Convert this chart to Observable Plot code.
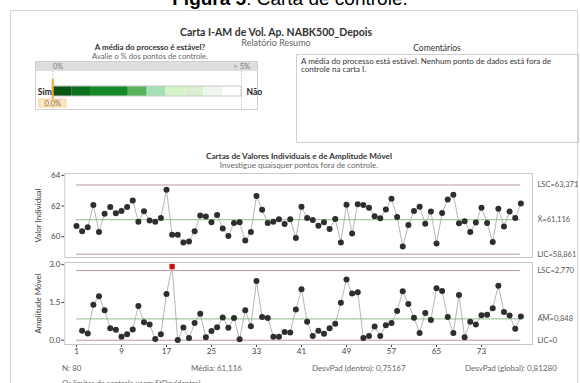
<!DOCTYPE html>
<html lang="pt">
<head>
<meta charset="utf-8">
<script src="https://cdn.jsdelivr.net/npm/d3@7"></script>
<script src="https://cdn.jsdelivr.net/npm/@observablehq/plot@0.6"></script>
<style>
html,body{margin:0;padding:0;background:#fff;}
body{width:580px;height:383px;overflow:hidden;position:relative;font-family:Lato,"Open Sans",sans-serif;color:#333;}
.t{position:absolute;white-space:nowrap;line-height:1;}
.box{position:absolute;box-sizing:border-box;border:1px solid #cfcfcf;}
.plot{position:absolute;}
.plot svg{overflow:visible;display:block;}
</style>
</head>
<body>
<div id="root"></div>
<script>
// ---------- data ----------
const individualValues = [60.70,60.35,60.61,62.06,60.30,61.49,61.93,61.53,61.68,61.93,
  62.36,60.98,61.66,61.05,60.98,61.22,63.06,60.13,60.13,59.62,
  59.69,60.35,61.38,61.31,60.94,61.42,60.54,60.04,60.90,60.94,
  59.75,60.30,62.65,61.75,60.90,60.98,61.14,60.83,61.14,59.91,
  61.95,61.22,61.09,60.72,60.94,60.50,61.16,59.62,62.08,60.21,
  62.12,62.06,61.88,61.33,61.20,61.77,62.47,61.29,59.36,60.76,
  61.68,61.95,60.85,61.64,59.56,61.55,62.43,62.74,60.87,61.00,
  60.30,60.92,61.88,60.90,59.65,61.82,60.67,61.64,61.22,62.16];
// moving ranges, observations 2..80
const movingRanges = [0.38,0.27,1.41,1.75,1.19,0.48,0.42,0.14,0.24,0.43,
  1.36,0.71,0.63,0.05,0.24,1.84,2.93,0.01,0.51,0.09,
  0.68,1.05,0.12,0.37,0.52,0.90,0.50,0.88,0.04,1.19,
  0.56,2.35,0.92,0.88,0.14,0.14,0.33,0.31,1.22,2.03,
  0.73,0.17,0.38,0.26,0.48,0.65,1.49,2.41,1.86,1.91,
  0.09,0.17,0.55,0.17,0.60,0.68,1.16,1.95,1.44,0.89,
  0.29,1.08,0.80,2.07,1.96,0.92,0.29,1.80,0.12,0.73,
  0.63,0.99,1.01,1.27,2.17,1.12,0.98,0.46,0.94];
const iLimits = [{v:63.371, t:"LSC=63,371", kind:"lim"},{v:61.116, t:"X\u0304=61,116", kind:"mean"},{v:58.861, t:"LIC=58,861", kind:"lim"}];
const mrLimits = [{v:2.770, t:"LSC=2,770", kind:"lim"},{v:0.848, t:"A\u0305M\u0305=0,848", kind:"mean"},{v:0, t:"LIC=0", kind:"lim"}];
const xTicks = [1,9,17,25,33,41,49,57,65,73];
const iTicks = [60,62,64];
const mrTicks = [0,1.5,3.0];
const gaugeBreaks = [0,0.5,1,2,2.5,3,3.5,4,4.5,5];
const gaugeColors = ["#0b5514","#0e6f1f","#15892a","#58b45c","#a5e1b6","#d5f3c5","#dcefcf","#eef7ee","#ffffff"];
const pctOut = [0];
const stats = [["N: 80",62],["Média: 61,116",191],["DesvPad (dentro): 0,75167",312],["DesvPad (global): 0,81280",465]];

// ---------- helpers ----------
const root = document.getElementById("root");
function txt(html, x, base, size, o = {}) {
  const d = document.createElement("div");
  d.className = "t";
  d.innerHTML = html;
  d.style.fontSize = size + "px";
  d.style.top = (base - 0.887 * size) + "px";
  d.style.color = o.color || "#333";
  if (o.weight) d.style.fontWeight = o.weight;
  if (o.italic) d.style.fontStyle = "italic";
  if (o.family) d.style.fontFamily = o.family;
  root.appendChild(d);
  const w = d.getBoundingClientRect().width;
  const a = o.anchor || "start";
  d.style.left = (a === "middle" ? x - w / 2 : a === "end" ? x - w : x) + "px";
  return d;
}
function box(x, y, w, h, extra = "") {
  const d = document.createElement("div");
  d.className = "box";
  d.style.cssText = `left:${x}px;top:${y}px;width:${w}px;height:${h}px;${extra}`;
  root.appendChild(d);
}
function holder(x, y, el) {
  const d = document.createElement("div");
  d.className = "plot";
  d.style.left = x + "px"; d.style.top = y + "px";
  d.appendChild(el);
  root.appendChild(d);
}

// ---------- header ----------
txt("<b>Figura 5</b>: Carta de controle.", 290, 6, 19, {anchor:"middle", color:"#000", family:'"Liberation Sans", Arial, sans-serif'});
box(10, 10, 568, 400, "border-color:#d6d6d6");
txt("Carta I-AM de Vol. Ap. NABK500_Depois", 276, 36, 10.5, {anchor:"middle", weight:700, color:"#333"});
txt("Relatório Resumo", 276, 46, 9, {anchor:"middle", color:"#666"});
txt("A média do processo é estável?", 150, 49.8, 8, {anchor:"middle", weight:700, color:"#333"});
txt("Avalie o % dos pontos de controle.", 150, 59.9, 7.7, {anchor:"middle", color:"#666"});
txt("Comentários", 437, 52, 8.5, {anchor:"middle", color:"#333"});
box(296, 54, 283, 89);
txt("A média do processo está estável. Nenhum ponto de dados está fora de", 301, 64, 8, {color:"#333"});
txt("controle na carta I.", 301, 72.5, 8, {color:"#333"});

// gauge frame
box(35, 61, 223, 49);
box(35, 61, 223, 10, "background:#dedede;border-bottom:none");
txt("0%", 53, 69.5, 7.5, {color:"#777"});
txt("&gt; 5%", 250, 69.5, 7.5, {anchor:"end", color:"#777"});

const segs = gaugeColors.map((c, k) => ({x1: gaugeBreaks[k], x2: gaugeBreaks[k + 1], c}));
const gauge = Plot.plot({
  width: 223, height: 39, marginLeft: 17.3, marginRight: 17, marginTop: 0, marginBottom: 0,
  x: {domain: [0, 5], axis: null},
  style: {background: "transparent", fontFamily: "Lato, sans-serif", fontSize: "8px", overflow: "visible"},
  marks: [
    Plot.ruleX([0, 5], {stroke: "#c4c4c4", strokeDasharray: "1.5,1.5"}),
    Plot.rect(segs, {x1: "x1", x2: "x2", fill: "c", insetTop: 15, insetBottom: 14}),
    Plot.rect([0], {x1: 0, x2: 5, fill: "none", stroke: "#c8c8c8", insetTop: 15, insetBottom: 14}),
    Plot.ruleX(pctOut, {x: d => d, stroke: "#f0a830", strokeWidth: 2, insetTop: 8, insetBottom: 10}),
    Plot.rect(pctOut, {x1: d => d, x2: d => d, insetLeft: -13.5, insetRight: -13.5, insetTop: 28, insetBottom: 3, fill: "#fde7c4", stroke: "#f2c98c", strokeWidth: 0.8}),
    Plot.text(pctOut, {x: d => d, text: d => d.toFixed(1) + "%", frameAnchor: "bottom", dy: -4.5, fill: "#8a6a3a", fontSize: 7.5}),
    Plot.text(pctOut, {x: gaugeBreaks[0], text: () => "Sim", textAnchor: "end", dx: -1, dy: 1, fontWeight: 700, fontSize: 8.5, fill: "#222"}),
    Plot.text(pctOut, {x: gaugeBreaks[gaugeBreaks.length - 1], text: () => "Não", textAnchor: "start", dx: 5, dy: 1, fontWeight: 700, fontSize: 8.5, fill: "#222"})
  ]
});
holder(35, 71, gauge);

// ---------- charts ----------
txt("Cartas de Valores Individuais e de Amplitude Móvel", 299, 159.5, 8.2, {anchor:"middle", weight:700, color:"#333"});
txt("Investigue quaisquer pontos fora de controle.", 299, 168, 8, {anchor:"middle", color:"#666"});

const xDomain = [-1.08, 82.07];
const iData = individualValues.map((v, k) => ({i: k + 1, v}));
const mrData = movingRanges.map((v, k) => ({i: k + 2, v}));
const common = {
  width: 580, marginLeft: 64.3, marginRight: 48,
  style: {background: "transparent", fontFamily: "Lato, sans-serif", fontSize: "8px", color: "#444", overflow: "visible"}
};
const limStroke = "#b99a9a", meanStroke = "#a5c9a0";

const iChart = Plot.plot({
  ...common, height: 90, marginTop: 3, marginBottom: 3,
  x: {domain: xDomain, axis: null},
  y: {domain: [58.645, 64.12], ticks: iTicks, tickFormat: d => String(d), tickSize: 3, tickPadding: 1.5,
      label: "Valor Individual", labelAnchor: "center", labelArrow: "none", labelOffset: 29},
  marks: [
    Plot.frame({stroke: "#c8c8c8"}),
    Plot.ruleY(iLimits, {y: "v", x1: 1, x2: 80, stroke: d => d.kind === "mean" ? meanStroke : limStroke, strokeWidth: d => d.kind === "mean" ? 1.4 : 1}),
    Plot.line(iData, {x: "i", y: "v", stroke: "#a3a3a3", strokeWidth: 0.8}),
    Plot.dot(iData, {x: "i", y: "v", r: 3, fill: "#2e2e2e"}),
    Plot.text(iLimits, {x: xDomain[1], y: "v", text: "t", textAnchor: "start", dx: 5, fill: "#555", fontSize: 7.5})
  ]
});
holder(0, 170, iChart);

const mrUCL = mrLimits[0].v;
const mrChart = Plot.plot({
  ...common, height: 100, marginTop: 4, marginBottom: 14,
  x: {domain: xDomain, ticks: xTicks, tickSize: 3, tickPadding: 1, tickFormat: d => String(d), label: null},
  y: {domain: [-0.17, 3.09], ticks: mrTicks, tickFormat: d => d.toFixed(1), tickSize: 3, tickPadding: 1.5,
      label: "Amplitude Móvel", labelAnchor: "center", labelArrow: "none", labelOffset: 29},
  marks: [
    Plot.frame({stroke: "#c8c8c8"}),
    Plot.ruleY(mrLimits, {y: "v", x1: 1, x2: 80, stroke: d => d.kind === "mean" ? meanStroke : limStroke, strokeWidth: d => d.kind === "mean" ? 1.4 : 1}),
    Plot.line(mrData, {x: "i", y: "v", stroke: "#a3a3a3", strokeWidth: 0.8}),
    Plot.dot(mrData.filter(d => d.v <= mrUCL), {x: "i", y: "v", r: 3, fill: "#2e2e2e"}),
    Plot.dot(mrData.filter(d => d.v > mrUCL), {x: "i", y: "v", r: 3, symbol: "square", fill: "#cc1111"}),
    Plot.text(mrLimits, {x: xDomain[1], y: "v", text: "t", textAnchor: "start", dx: 5, fill: "#555", fontSize: 7.5})
  ]
});
holder(0, 258, mrChart);

// ---------- footer ----------
stats.forEach(([s, x]) => txt(s, x, 371.5, 8, {color:"#666"}));
txt("Os limites de controle usam StDev(dentro).", 62, 386, 8, {color:"#666", italic:true});
</script>
</body>
</html>
